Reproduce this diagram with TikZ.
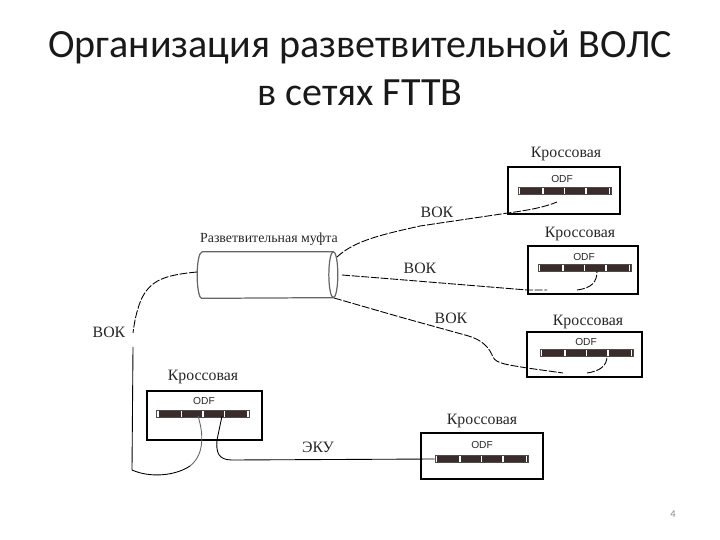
\documentclass[tikz,border=0pt]{standalone}
\usepackage{fontspec}
\setmainfont{Liberation Serif}
\newfontfamily\titlefont{Carlito}
\newfontfamily\odffont{Liberation Sans}
\usepackage{xcolor}
\usetikzlibrary{positioning, calc}
\definecolor{odfbar}{HTML}{3A2C2A}
\definecolor{muftline}{HTML}{666666}
\definecolor{pagenum}{HTML}{8A8A8A}
\begin{document}
\begin{tikzpicture}[x=0.02cm, y=-0.02cm,
    heading/.style={font=\titlefont\fontsize{22.8}{27.2}\selectfont, text=black!90, align=center, inner sep=0pt},
    lbl/.style={font=\fontsize{9}{11}\selectfont, text=black!85, inner sep=0pt},
    box/.style={draw=black, line width=1.5pt, fill=white, inner sep=0pt},
    odf/.style={font=\odffont\fontsize{5.8}{7}\selectfont, text=black!85, inner sep=0pt},
    bar/.style={fill=odfbar, draw=black!70, line width=0.4pt, minimum width=1.86cm, minimum height=0.13cm, inner sep=0pt},
    cable/.style={line width=0.5pt, dash pattern=on 4.5pt off 1pt},
    wire/.style={line width=0.5pt},
    muft/.style={minimum width=2.62cm, minimum height=0.92cm, inner sep=0pt},
    muftend/.style={draw=muftline, line width=0.7pt}]
  \useasboundingbox (0,0) rectangle (720,540);
  % title
  \node[heading] (title) at (360,68) {Организация разветвительной ВОЛС\\в сетях FTTB};
  % boxes
  \node[box, minimum width=2.24cm, minimum height=0.94cm] (k1) at (564,190.5) {};
  \node[box, minimum width=2.2cm, minimum height=0.96cm] (k2) at (583,270) {};
  \node[box, minimum width=2.3cm, minimum height=0.9cm] (k3) at (584.5,354.5) {};
  \node[box, minimum width=2.44cm, minimum height=0.92cm] (k4) at (482,456) {};
  \node[box, minimum width=2.3cm, minimum height=0.98cm] (k5) at (204.5,415.5) {};
  % box captions
  \node[lbl] (c1) at (566,154) {Кроссовая};
  \node[lbl] (c2) at (580,234) {Кроссовая};
  \node[lbl] (c3) at (588,322) {Кроссовая};
  \node[lbl] (c4) at (482,421) {Кроссовая};
  \node[lbl] (c5) at (203,377) {Кроссовая};
  % odf
  \node[odf] (o1) at (562,179) {ODF};
  \node[odf] (o2) at (584,257) {ODF};
  \node[odf] (o3) at (586,342) {ODF};
  \node[odf] (o4) at (482,445) {ODF};
  \node[odf] (o5) at (204,401) {ODF};
  \node[bar] (b1) at (564.5,191) {};
  \node[bar] (b2) at (584.5,268) {};
  \node[bar] (b3) at (586.5,353) {};
  \node[bar] (b4) at (481.5,459) {};
  \node[bar] (b5) at (203,414) {};
  \foreach \n in {1,...,5}
    \foreach \t in {0.02,0.27,0.5,0.73,0.98}
      \fill[white] ($(b\n.west)!\t!(b\n.east)$) +(-0.9,-2.7) rectangle +(0.9,2.7);
  % splice
  \node[muft] (m) at (267.5,275) {};
  \draw[muftend] (m.north west) -- (m.north east) arc[start angle=90, end angle=-90, x radius=0.09cm, y radius=0.46cm] -- (m.south west) arc[start angle=270, end angle=90, x radius=0.09cm, y radius=0.46cm];
  \draw[muftend] (m.north east) arc[start angle=90, end angle=270, x radius=0.09cm, y radius=0.46cm];
  \node[lbl, font=\fontsize{7.9}{9}\selectfont] (mt) at (269,239.5) {Разветвительная муфта};
  % cable ends
  \coordinate (m0) at (197,272);
  \coordinate (m1) at (337,257);
  \coordinate (m2) at (342,275);
  \coordinate (m3) at (334,298);
  \coordinate (e1) at (557,202);
  \coordinate (e2) at (597,271);
  \coordinate (e3) at (607,356);
  \coordinate (e5a) at (198,416);
  \coordinate (e5b) at (222,416);
  % cables
  \draw[cable] (m0) .. controls (165,275) and (150,280) .. (141,300) .. controls (136,312) and (134,325) .. (133,333);
  \coordinate (v1) at (133,347);
  \coordinate (v2) at (190,466);
  \draw[wire] (v1) -- (132,470) .. controls (150,478) and (175,476) .. (v2);
  \draw[wire, draw=black!60] (v2) .. controls (204,455) and (204,435) .. (e5a);
  \draw[cable] (m1) .. controls (355,240) and (385,234) .. (420,226) -- (508,213) .. controls (530,210) and (545,207) .. (e1);
  \draw[cable] (m2) -- (380,278) -- (527,290) -- (547,290);
  \coordinate (g2) at (577,290);
  \draw[cable] (g2) .. controls (592,288) and (597,282) .. (e2);
  \draw[cable] (m3) -- (400,317) -- (465,335) .. controls (485,340) and (490,350) .. (493,357) .. controls (496,364) and (510,365) .. (527,368) -- (563,373);
  \coordinate (g3) at (587,373);
  \draw[cable] (g3) .. controls (600,371) and (607,366) .. (e3);
  % patch cord
  \draw[wire] (e5b) -- (217,440) .. controls (216,452) and (218,460) .. (232,460) -- (b4.west);
  % labels
  \node[lbl] (v1l) at (437,212) {ВОК};
  \node[lbl] (v2l) at (420,268) {ВОК};
  \node[lbl] (v3l) at (451,318) {ВОК};
  \node[lbl] (v4l) at (109,332) {ВОК};
  \node[lbl] (eku) at (318,447) {ЭКУ};
  \node[font=\titlefont\fontsize{6}{7}\selectfont, text=pagenum, inner sep=0pt] (num) at (673,514) {4};
\end{tikzpicture}
\end{document}
